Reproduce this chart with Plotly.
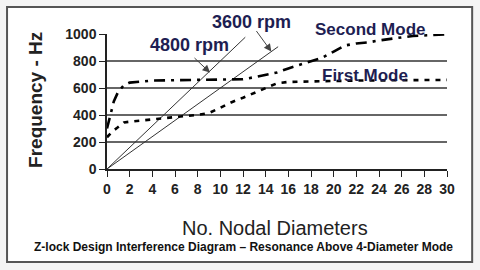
import plotly.graph_objects as go

# Data
second_n = [0, 0.3, 0.6, 1, 1.5, 2, 3, 4, 6, 8, 10, 12, 13, 14, 15, 16, 17, 18, 19, 20, 21, 22, 23, 24, 25, 26, 27, 28, 29, 30]
second_f = [300, 410, 500, 575, 620, 640, 650, 655, 658, 660, 662, 665, 680, 700, 715, 745, 770, 795, 825, 870, 915, 930, 937, 952, 965, 975, 985, 990, 995, 998]
first_n = [0, 0.5, 0.9, 1.5, 2, 3, 4, 6, 8, 9, 10, 11, 12, 13, 14, 15, 16, 17, 18, 20, 22, 24, 26, 28, 30]
first_f = [235, 280, 305, 345, 350, 360, 370, 385, 400, 415, 453, 495, 528, 565, 600, 635, 645, 648, 650, 652, 655, 657, 658, 660, 660]
rpm4800_n = [0, 12.2]
rpm4800_f = [0, 976]
rpm3600_n = [0, 15.1]
rpm3600_f = [0, 906]
grid_levels = [200, 400, 600, 800]
x_ticks = list(range(0, 31, 2))
y_ticks = [0, 200, 400, 600, 800, 1000]

navy = "#1e1e52"
fig = go.Figure()

fig.add_trace(go.Scatter(x=rpm4800_n, y=rpm4800_f, mode="lines",
                         line=dict(color="#333333", width=1), showlegend=False))
fig.add_trace(go.Scatter(x=rpm3600_n, y=rpm3600_f, mode="lines",
                         line=dict(color="#333333", width=1), showlegend=False))
fig.add_trace(go.Scatter(x=second_n, y=second_f, mode="lines",
                         line=dict(color="black", width=2.6, dash="11px,6px,3px,6px"),
                         showlegend=False))
fig.add_trace(go.Scatter(x=first_n, y=first_f, mode="lines",
                         line=dict(color="black", width=2.6, dash="5px,6px"),
                         showlegend=False))

shapes = [dict(type="rect", xref="paper", yref="paper",
               x0=-0.294, x1=1.074, y0=-0.689, y1=1.2,
               line=dict(color="#555555", width=2), fillcolor="white", layer="below")]
for g in grid_levels:
    shapes.append(dict(type="line", xref="x", yref="y", x0=0, x1=30, y0=g, y1=g,
                       line=dict(color="#333333", width=1.5), layer="below"))

tf = dict(family="Liberation Sans", size=14, color="#222222", weight="bold")
lf = dict(family="Liberation Sans", size=18, color=navy, weight="bold")
mf = dict(family="Liberation Sans", size=17, color=navy, weight="bold")


def lab(x, y, text, font, **kw):
    return dict(xref="paper", yref="paper", x=x, y=y, text=text, font=font,
                showarrow=False, xanchor="center", yanchor="middle", **kw)


fig.update_layout(
    width=480, height=270,
    margin=dict(l=107, r=33, t=34, b=101),
    paper_bgcolor="#f4f4f4",
    plot_bgcolor="rgba(0,0,0,0)",
    shapes=shapes,
    xaxis=dict(range=[0, 30], tickvals=x_ticks, ticks="outside", ticklen=6,
               tickcolor="#222222", showgrid=False, zeroline=False,
               showline=True, linecolor="#222222", linewidth=1.5,
               tickfont=tf, fixedrange=True),
    yaxis=dict(range=[0, 1000], tickvals=y_ticks, ticks="outside", ticklen=6,
               tickcolor="#222222", showgrid=False, zeroline=False,
               showline=True, linecolor="#222222", linewidth=1.5,
               tickfont=tf, fixedrange=True),
    annotations=[
        lab(0.494, -0.437, "No. Nodal Diameters",
            dict(family="Liberation Sans", size=20, color="#222222")),
        lab(-0.212, 0.511, "Frequency - Hz",
            dict(family="Liberation Sans", size=19, color="#222222", weight="bold"),
            textangle=-90),
        lab(0.4, -0.578,
            "Z-lock Design Interference Diagram \u2013 Resonance Above 4-Diameter Mode",
            dict(family="Liberation Sans", size=12, color="#111111", weight="bold")),
        lab(0.244, 0.919, "4800 rpm", lf),
        lab(0.424, 1.089, "3600 rpm", lf),
        lab(0.776, 1.037, "Second Mode", mf),
        lab(0.759, 0.689, "First Mode", mf),
        dict(x=9.09, y=714, text="", showarrow=True, ax=-17, ay=-16,
             arrowhead=2, arrowsize=1.5, arrowwidth=1, arrowcolor="#444444"),
        dict(x=14.5, y=870, text="", showarrow=True, ax=-16, ay=-22,
             arrowhead=2, arrowsize=1.5, arrowwidth=1, arrowcolor="#444444"),
    ],
)

fig.write_html("out.html", config={"displayModeBar": False})
